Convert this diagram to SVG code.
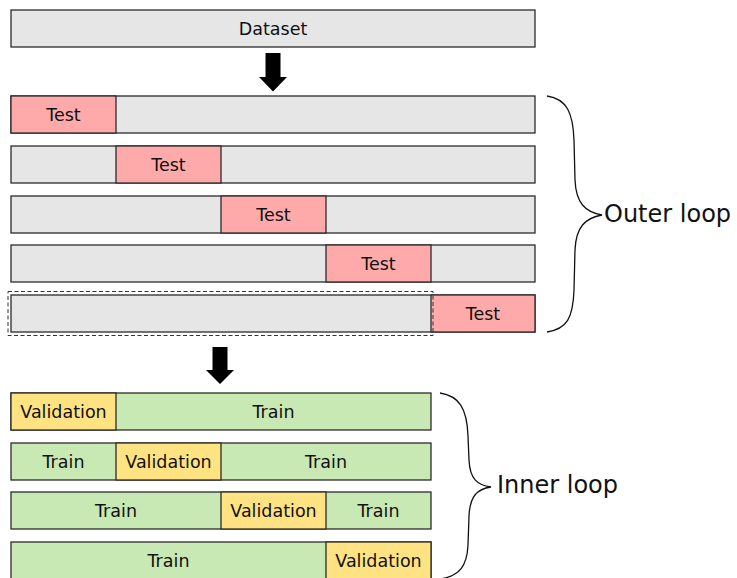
<svg xmlns="http://www.w3.org/2000/svg" width="737" height="578" viewBox="0 0 737 578">
<style>
rect.seg{stroke:#2b2b2b;stroke-width:1.3}
.data{fill:#e6e6e6}
.test{fill:#ffaaaa}
.train{fill:#c8e8b4}
.val{fill:#ffe382}
text{font-family:"DejaVu Sans",sans-serif;fill:#111}
.lbl{font-size:17.5px;text-anchor:middle}
.big{font-size:24px}
.brace{fill:none;stroke:#111;stroke-width:1.3}
</style>
<rect width="737" height="578" fill="#fff"/>

<g id="dataset">
<rect class="seg data" x="11" y="10" width="524" height="37"/>
<text class="lbl" x="273" y="34.5">Dataset</text>
</g>

<g id="outer-folds">
<g id="outer1">
<rect class="seg data" x="11" y="96" width="524" height="37"/>
<rect class="seg test" x="11" y="96" width="105" height="37"/>
<text class="lbl" x="63.5" y="120.5">Test</text>
</g>
<g id="outer2">
<rect class="seg data" x="11" y="146" width="524" height="37"/>
<rect class="seg test" x="116" y="146" width="105" height="37"/>
<text class="lbl" x="168.5" y="170.5">Test</text>
</g>
<g id="outer3">
<rect class="seg data" x="11" y="196" width="524" height="37"/>
<rect class="seg test" x="221" y="196" width="105" height="37"/>
<text class="lbl" x="273.5" y="220.5">Test</text>
</g>
<g id="outer4">
<rect class="seg data" x="11" y="245" width="524" height="37"/>
<rect class="seg test" x="326" y="245" width="105" height="37"/>
<text class="lbl" x="378.5" y="269.5">Test</text>
</g>
<g id="outer5">
<rect class="seg data" x="11" y="295" width="524" height="37"/>
<rect class="seg test" x="431" y="295" width="104" height="37"/>
<text class="lbl" x="483" y="319.5">Test</text>
<rect x="8" y="291.5" width="425" height="44" fill="none" stroke="#333" stroke-width="1" stroke-dasharray="4,2.5"/>
</g>
</g>

<g id="inner-folds">
<g id="inner1">
<rect class="seg train" x="11" y="393" width="420" height="37"/>
<rect class="seg val" x="11" y="393" width="105" height="37"/>
<text class="lbl" x="63.5" y="417.5">Validation</text>
<text class="lbl" x="273.5" y="417.5">Train</text>
</g>
<g id="inner2">
<rect class="seg train" x="11" y="443" width="420" height="37"/>
<rect class="seg val" x="116" y="443" width="105" height="37"/>
<text class="lbl" x="63.5" y="467.5">Train</text>
<text class="lbl" x="168.5" y="467.5">Validation</text>
<text class="lbl" x="326" y="467.5">Train</text>
</g>
<g id="inner3">
<rect class="seg train" x="11" y="492" width="420" height="37"/>
<rect class="seg val" x="221" y="492" width="105" height="37"/>
<text class="lbl" x="116" y="516.5">Train</text>
<text class="lbl" x="273.5" y="516.5">Validation</text>
<text class="lbl" x="378.5" y="516.5">Train</text>
</g>
<g id="inner4">
<rect class="seg train" x="11" y="542" width="420" height="40"/>
<rect class="seg val" x="326" y="542" width="105" height="40"/>
<text class="lbl" x="168.5" y="566.5">Train</text>
<text class="lbl" x="378.5" y="566.5">Validation</text>
</g>
</g>

<g id="connectors">
<path d="M265.5 53H280.5V77H287L273 91.5L259 77H265.5Z" fill="#000"/>
<path d="M212.5 347H227.5V370H234L220 384L206 370H212.5Z" fill="#000"/>
<path class="brace" d="M547 96C567 99 573 113 574 140L575 180C576 203 585 212 602 215C585 218 576 227 575 250L574 290C573 318 567 329 547 332"/>
<path class="brace" d="M440 393C459 396 467 408 468 436L469 460C470 479 477 485 491 487C477 489 470 496 469 516L468 545C467 567 459 576 440 579"/>
</g>

<g id="loop-labels">
<text class="big" x="604" y="222">Outer loop</text>
<text class="big" x="497" y="493">Inner loop</text>
</g>
</svg>
